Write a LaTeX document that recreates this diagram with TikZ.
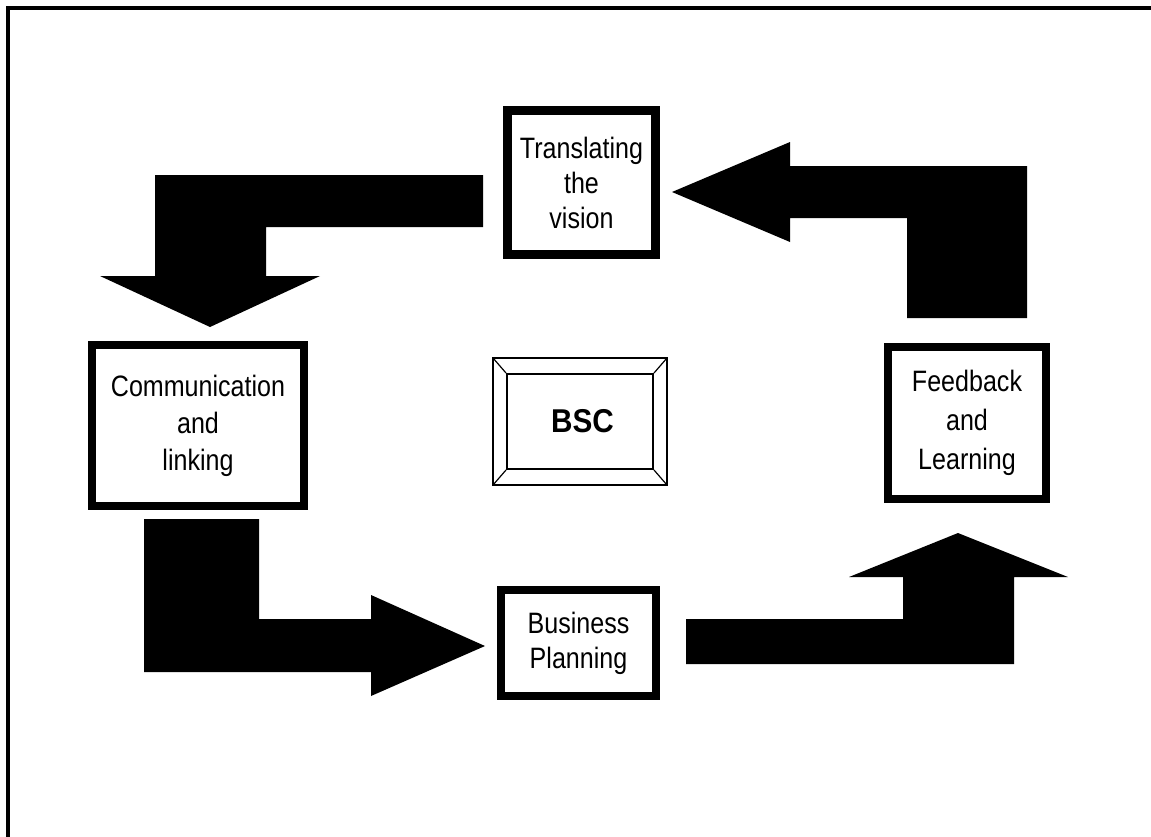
\documentclass[tikz,border=0pt]{standalone}
\usepackage{fontspec}
\newfontfamily\boxfont[FakeStretch=0.85]{Liberation Sans}
\newfontfamily\bscfont[FakeStretch=0.9]{Liberation Sans}
\usetikzlibrary{calc}

\tikzset{
  stagebox/.style={draw=black, line width=8pt, fill=white, align=center,
    inner sep=0pt, font=\boxfont\fontsize{29.5}{37}\selectfont},
  blockarrow/.style={fill=black, draw=none},
}

\begin{document}
\begin{tikzpicture}[x=1pt, y=-1pt]
  \useasboundingbox (0,0) rectangle (1151,836);
  \clip (0,0) rectangle (1151,836);

  % outer frame (runs past the right and bottom edges)
  \draw[line width=4pt] (1200,8) -- (8,8) -- (8,900);

  % the four stages of the cycle
  \node[stagebox, minimum width=148pt, minimum height=144pt, line width=9pt,
        font=\boxfont\fontsize{29.5}{35}\selectfont]
    (vision) at (581.5,182.5) {Translating\\the\\vision};
  \node[stagebox, minimum width=212pt, minimum height=161pt]
    (comm) at (198,425.5) {Communication\\and\\linking};
  \node[stagebox, minimum width=158pt, minimum height=152pt,
        font=\boxfont\fontsize{29.5}{39}\selectfont]
    (feedback) at (967,423) {Feedback\\and\\Learning};
  \node[stagebox, minimum width=155pt, minimum height=106pt,
        font=\boxfont\fontsize{29.5}{35}\selectfont]
    (plan) at (578.5,643) {\raisebox{-3pt}{\parbox{150pt}{\centering Business\\Planning}}};

  % bevelled BSC panel in the centre
  \node[draw=black, line width=2pt, minimum width=146pt, minimum height=95pt,
        inner sep=0pt, font=\bscfont\bfseries\fontsize{33}{38}\selectfont]
    (bsc) at (580,421.5) {\hspace{5pt}BSC};
  \coordinate (bscNW) at ($(bsc.north west)+(-13,-15)$);
  \coordinate (bscNE) at ($(bsc.north east)+(13,-15)$);
  \coordinate (bscSE) at ($(bsc.south east)+(13,15)$);
  \coordinate (bscSW) at ($(bsc.south west)+(-13,15)$);
  \draw[line width=1.5pt, line join=miter] (bscNW) -- (bscNE) -- (bscSE) -- (bscSW) -- cycle;
  \draw[line width=1.2pt] (bscNW) -- (bsc.north west)
                          (bscNE) -- (bsc.north east)
                          (bscSE) -- (bsc.south east)
                          (bscSW) -- (bsc.south west);

  % block arrows between the stages
  % vision -> communication
  \fill[blockarrow] (483,175) -- (155,175) -- (155,276) -- (100,276) -- (210,327)
    -- (320,276) -- (266,276) -- (266,227) -- (483,227) -- cycle;
  % communication -> planning
  \fill[blockarrow] (144,519) -- (259,519) -- (259,619) -- (371,619) -- (371,595)
    -- (485,646) -- (371,696) -- (371,672) -- (144,672) -- cycle;
  % planning -> feedback
  \fill[blockarrow] (686,619) -- (903,619) -- (903,577) -- (849,577) -- (958,533)
    -- (1068,577) -- (1014,577) -- (1014,664) -- (686,664) -- cycle;
  % feedback -> vision
  \fill[blockarrow] (672,192) -- (790,142) -- (790,166) -- (1027,166) -- (1027,318)
    -- (907,318) -- (907,218) -- (790,218) -- (790,242) -- cycle;
\end{tikzpicture}
\end{document}
